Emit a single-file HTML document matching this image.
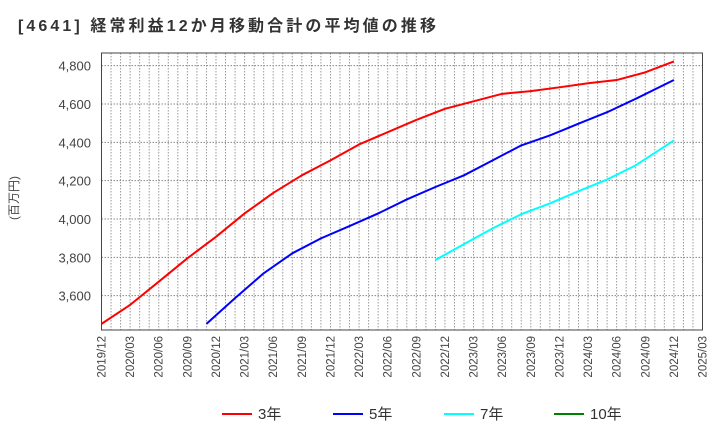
<!DOCTYPE html>
<html><head><meta charset="utf-8">
<style>
body{margin:0;background:#fff;}
svg{display:block;font-family:"Liberation Sans","Noto Sans CJK JP",sans-serif;}
</style></head>
<body>
<svg id="chart" width="720" height="440"></svg>
<script>
const xLabels=["2019/12","2020/03","2020/06","2020/09","2020/12","2021/03","2021/06","2021/09","2021/12","2022/03","2022/06","2022/09","2022/12","2023/03","2023/06","2023/09","2023/12","2024/03","2024/06","2024/09","2024/12","2025/03"];
const yTicks=[3600,3800,4000,4200,4400,4600,4800];
const yTickLabels=["3,600","3,800","4,000","4,200","4,400","4,600","4,800"];
// month index from 2019/12
const m3=[0,3,6,9,12,15,18,21,24,27,30,33,36,39,42,45,48,51,54,57,60];
const v3=[3453,3552,3673,3795,3907,4029,4136,4228,4306,4389,4453,4517,4575,4614,4653,4667,4687,4708,4725,4765,4822];
const m5=[11,14,17,20,23,26,29,32,35,38,41,44,47,50,53,56,60];
const v5=[3453,3587,3717,3821,3899,3963,4029,4102,4167,4228,4306,4384,4436,4497,4557,4627,4725];
const m7=[35,38,41,44,47,50,53,56,60];
const v7=[3786,3869,3951,4025,4081,4145,4206,4280,4410];
const series=[{name:"3年",color:"#ff0000",m:m3,v:v3},{name:"5年",color:"#0000ff",m:m5,v:v5},{name:"7年",color:"#00ffff",m:m7,v:v7},{name:"10年",color:"#008000",m:[],v:[]}];

const L=101.5,R=702.5,T=53,B=330,months=63;
const yMin=3421,yMax=4866;
const X=m=>L+(R-L)*m/months;
const Y=v=>B-(B-T)*(v-yMin)/(yMax-yMin);
const svg=document.getElementById('chart');
const NS="http://www.w3.org/2000/svg";
function mk(tag,attrs,parent){const e=document.createElementNS(NS,tag);for(const k in attrs)e.setAttribute(k,attrs[k]);(parent||svg).appendChild(e);return e;}

const title=mk('text',{x:18,y:31,'font-size':16,'font-weight':'bold',fill:'#333',textLength:418,lengthAdjust:'spacing'});


title.textContent='[4641]  経常利益12か月移動合計の平均値の推移';

const grid=mk('g',{});


for(let m=1;m<months;m++){mk('line',{x1:X(m),x2:X(m),y1:T,y2:B,stroke:'#999','stroke-dasharray':'1.5,1.5','stroke-width':1},grid);}
yTicks.forEach(v=>mk('line',{x1:L,x2:R,y1:Y(v),y2:Y(v),stroke:'#888','stroke-dasharray':'1.5,1.5','stroke-width':1},grid));

const yAx=mk('g',{});


yTicks.forEach((v,i)=>{const t=mk('text',{x:91,y:Y(v)+5,'text-anchor':'end','font-size':13,fill:'#444'},yAx);t.textContent=yTickLabels[i];});
const yt=mk('text',{x:0,y:0,'font-size':12,fill:'#444','text-anchor':'middle',transform:'translate(18,198) rotate(-90)'});


yt.textContent='(百万円)';

const xAx=mk('g',{});


xLabels.forEach((s,i)=>{const x=X(i*3);const t=mk('text',{x:0,y:0,'font-size':11.5,fill:'#444','text-anchor':'end',transform:`translate(${x+4},336) rotate(-90)`},xAx);t.textContent=s;});

series.forEach(s=>{if(!s.m.length)return;const p=mk('polyline',{points:s.m.map((m,i)=>X(m)+','+Y(s.v[i])).join(' '),fill:'none',stroke:s.color,'stroke-width':2,'stroke-linejoin':'round'});

});

mk('rect',{x:L,y:T,width:R-L,height:B-T,fill:'none',stroke:'#444','stroke-width':1});

const lx=[222,333,444,554];
series.forEach((s,i)=>{const g=mk('g',{});


mk('line',{x1:lx[i],x2:lx[i]+30,y1:414,y2:414,stroke:s.color,'stroke-width':2},g);
const t=mk('text',{x:lx[i]+36,y:419,'font-size':15,fill:'#333'},g);t.textContent=s.name;});
</script>
</body></html>
